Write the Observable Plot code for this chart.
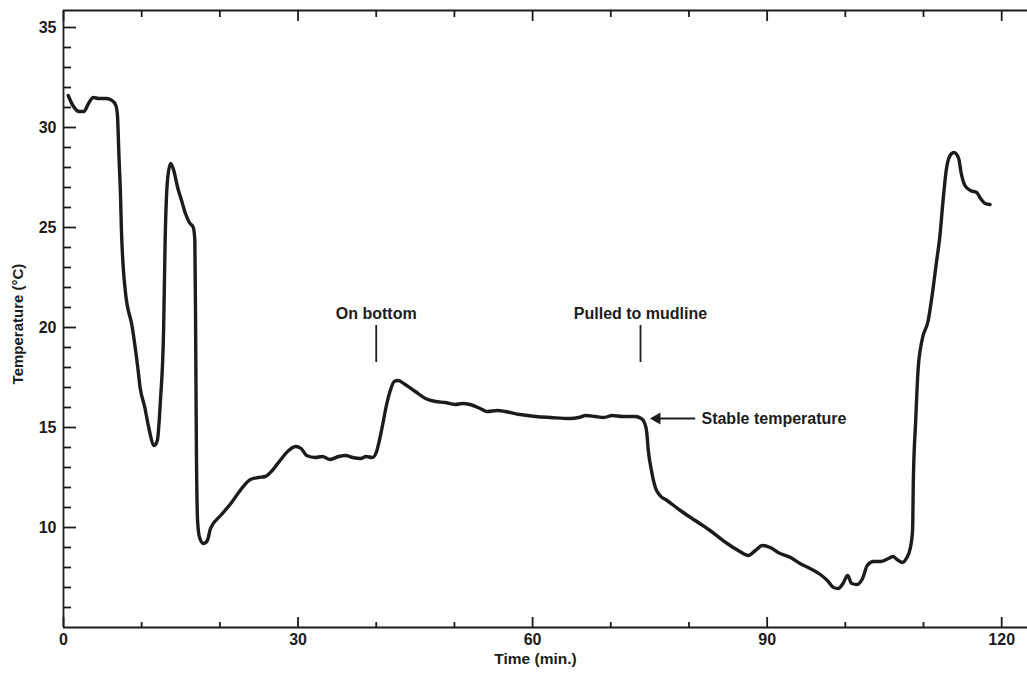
<!DOCTYPE html>
<html>
<head>
<meta charset="utf-8">
<script src="https://cdn.jsdelivr.net/npm/d3@7"></script>
<script src="https://cdn.jsdelivr.net/npm/@observablehq/plot@0.6"></script>
<style>
  html, body { margin: 0; padding: 0; background: #fff; }
</style>
</head>
<body>
<div id="chart"></div>
<script>
// Time (min.) and temperature (°C)
const time = [0.6,1.2,2.0,2.6,3.2,3.8,4.5,5.5,6.2,6.7,6.9,7.1,7.3,7.4,7.9,8.8,9.5,9.8,10.4,10.9,11.6,
  12.0,12.4,12.8,13.0,13.3,13.7,14.1,14.6,15.1,15.6,16.1,16.6,16.8,16.9,17.0,17.15,17.4,17.9,18.4,18.8,
  20.1,21.4,22.6,23.9,24.9,25.8,26.7,27.7,28.8,29.7,30.4,31.1,32.2,33.1,34.1,35.2,36.1,37.0,38.0,38.7,39.5,
  40.0,40.4,40.8,41.3,41.8,42.3,42.8,43.7,45.0,46.3,47.6,48.8,50.1,51.0,52.0,53.3,54.2,55.5,56.5,58.4,60.4,
  62.3,64.8,65.9,66.8,68.0,69.1,70.2,71.5,73.1,73.9,74.3,74.6,74.8,75.2,75.7,76.3,77.2,78.9,80.8,82.7,84.7,
  86.3,87.6,88.5,89.4,90.4,91.4,93.0,94.2,95.5,96.8,97.7,98.5,99.1,99.7,100.3,100.8,101.5,102.2,102.8,103.6,
  104.5,105.5,106.1,106.6,107.3,107.8,108.3,108.6,108.7,109.0,109.3,109.8,110.6,111.1,111.6,112.1,112.5,
  112.9,113.4,113.9,114.5,114.8,115.3,116.0,116.8,117.3,117.9,118.5];
const temperature = [31.6,31.1,30.8,30.8,31.2,31.5,31.45,31.45,31.35,31.1,30.6,28.5,26.5,25.0,21.85,20.0,18.0,17.0,16.0,15.0,14.1,
  14.35,16.35,19.85,24.35,27.35,28.2,27.85,27.0,26.35,25.7,25.25,25.0,24.35,19.85,13.85,10.35,9.5,9.2,9.35,9.95,
  10.6,11.2,11.85,12.4,12.5,12.55,12.85,13.35,13.85,14.05,13.95,13.6,13.5,13.55,13.4,13.55,13.6,13.5,13.45,13.55,13.5,
  13.75,14.35,15.1,16.1,16.85,17.3,17.35,17.15,16.8,16.45,16.3,16.25,16.15,16.2,16.15,15.95,15.8,15.85,15.8,15.65,15.55,
  15.5,15.45,15.5,15.6,15.55,15.5,15.6,15.55,15.55,15.45,15.25,14.75,13.85,12.85,12.0,11.6,11.35,10.85,10.35,9.85,9.25,
  8.85,8.6,8.85,9.1,9.0,8.75,8.5,8.2,7.95,7.65,7.35,7.0,6.95,7.2,7.6,7.2,7.15,7.45,8.1,8.3,
  8.3,8.45,8.55,8.4,8.25,8.45,8.95,9.85,12.35,15.35,17.85,19.35,20.35,21.6,23.1,24.6,26.35,
  27.85,28.6,28.75,28.45,27.75,27.1,26.85,26.75,26.45,26.2,26.15];

// Axis ticks
const xMajor = [0, 30, 60, 90, 120];
const xMinor = [10, 20, 40, 50, 70, 80, 100, 110];
const yMajor = [10, 15, 20, 25, 30, 35];
const yMinor = [6,7,8,9,11,12,13,14,16,17,18,19,21,22,23,24,26,27,28,29,31,32,33,34];
const xDomain = [0, 123.3];
const yDomain = [5, 35.85];

// Annotations
const eventLabels = ["On bottom", "Pulled to mudline"];
const eventTimes = [40.0, 73.8];
const eventLabelY = 20.45;
const eventLineTop = 20.1;
const eventLineBottom = 18.25;
const stableLabel = ["Stable temperature"];
const stableTextTime = [81.6];
const stableArrowFrom = [80.8];
const stableArrowTo = [75.9];
const stableTemp = [15.45];

const trace = time.map((t, i) => ({t, T: temperature[i]}));
const events = eventLabels.map((label, i) => ({label, t: eventTimes[i]}));
const stable = stableLabel.map((label, i) => ({label, tx: stableTextTime[i], t1: stableArrowFrom[i], t2: stableArrowTo[i], T: stableTemp[i]}));

const ink = "#1c1c1c";
const font = "'Liberation Sans', Arial, Helvetica, sans-serif";

const chart = Plot.plot({
  width: 1027,
  height: 675,
  marginLeft: 63,
  marginRight: 0,
  marginTop: 10,
  marginBottom: 48,
  style: {fontFamily: font, fontWeight: "bold", fontSize: "16px", color: ink, background: "#fff"},
  x: {domain: xDomain},
  y: {domain: yDomain},
  marks: [
    // frame lines
    Plot.ruleX([xDomain[0]], {stroke: ink, strokeWidth: 1.8}),
    Plot.ruleY([yDomain[0]], {stroke: ink, strokeWidth: 1.8}),
    Plot.ruleY([yDomain[1]], {stroke: ink, strokeWidth: 1.8}),
    // y axis
    Plot.axisY(yMajor, {anchor: "left", tickSize: -13, tickPadding: 20, tickFormat: d => d, label: null, fontSize: 16, stroke: ink, strokeWidth: 1.8}),
    Plot.axisY(yMinor, {anchor: "left", tickSize: -8, tickFormat: () => "", label: null, strokeWidth: 1.8}),
    // x axis bottom
    Plot.axisX(xMajor, {anchor: "bottom", tickSize: -10, tickPadding: 16, tickFormat: d => d, label: null, fontSize: 16, strokeWidth: 1.8}),
    Plot.axisX(xMinor, {anchor: "bottom", tickSize: -5, tickFormat: () => "", label: null, strokeWidth: 1.8}),
    // x axis top
    Plot.axisX(xMajor, {anchor: "top", tickSize: -10, tickFormat: () => "", label: null, strokeWidth: 1.8}),
    Plot.axisX(xMinor, {anchor: "top", tickSize: -6, tickFormat: () => "", label: null, strokeWidth: 1.8}),
    // axis titles
    Plot.text(["Temperature (°C)"], {frameAnchor: "left", textAnchor: "middle", dx: -45, dy: 5, rotate: -90, fontSize: 15, fill: ink}),
    Plot.text(["Time (min.)"], {frameAnchor: "bottom", dy: 36, dx: -10, fontSize: 15.5, fill: ink}),
    // the trace
    Plot.line(trace, {x: "t", y: "T", stroke: ink, strokeWidth: 3.4, curve: "monotone-x", strokeLinejoin: "round", strokeLinecap: "round"}),
    // event markers
    Plot.ruleX(events, {x: "t", y1: eventLineBottom, y2: eventLineTop, stroke: ink, strokeWidth: 1.8}),
    Plot.text(events, {x: "t", y: eventLabelY, text: "label", lineAnchor: "bottom", fontSize: 16, fill: ink}),
    // stable temperature arrow
    Plot.link(stable, {x1: "t1", x2: "t2", y1: "T", y2: "T", stroke: ink, strokeWidth: 1.8}),
    Plot.dot(stable, {x: "t2", y: "T", symbol: "triangle", r: 4.5, rotate: -90, fill: ink, stroke: "none"}),
    Plot.text(stable, {x: "tx", y: "T", text: "label", textAnchor: "start", fontSize: 16, fill: ink})
  ]
});

document.getElementById("chart").appendChild(chart);
</script>
</body>
</html>
